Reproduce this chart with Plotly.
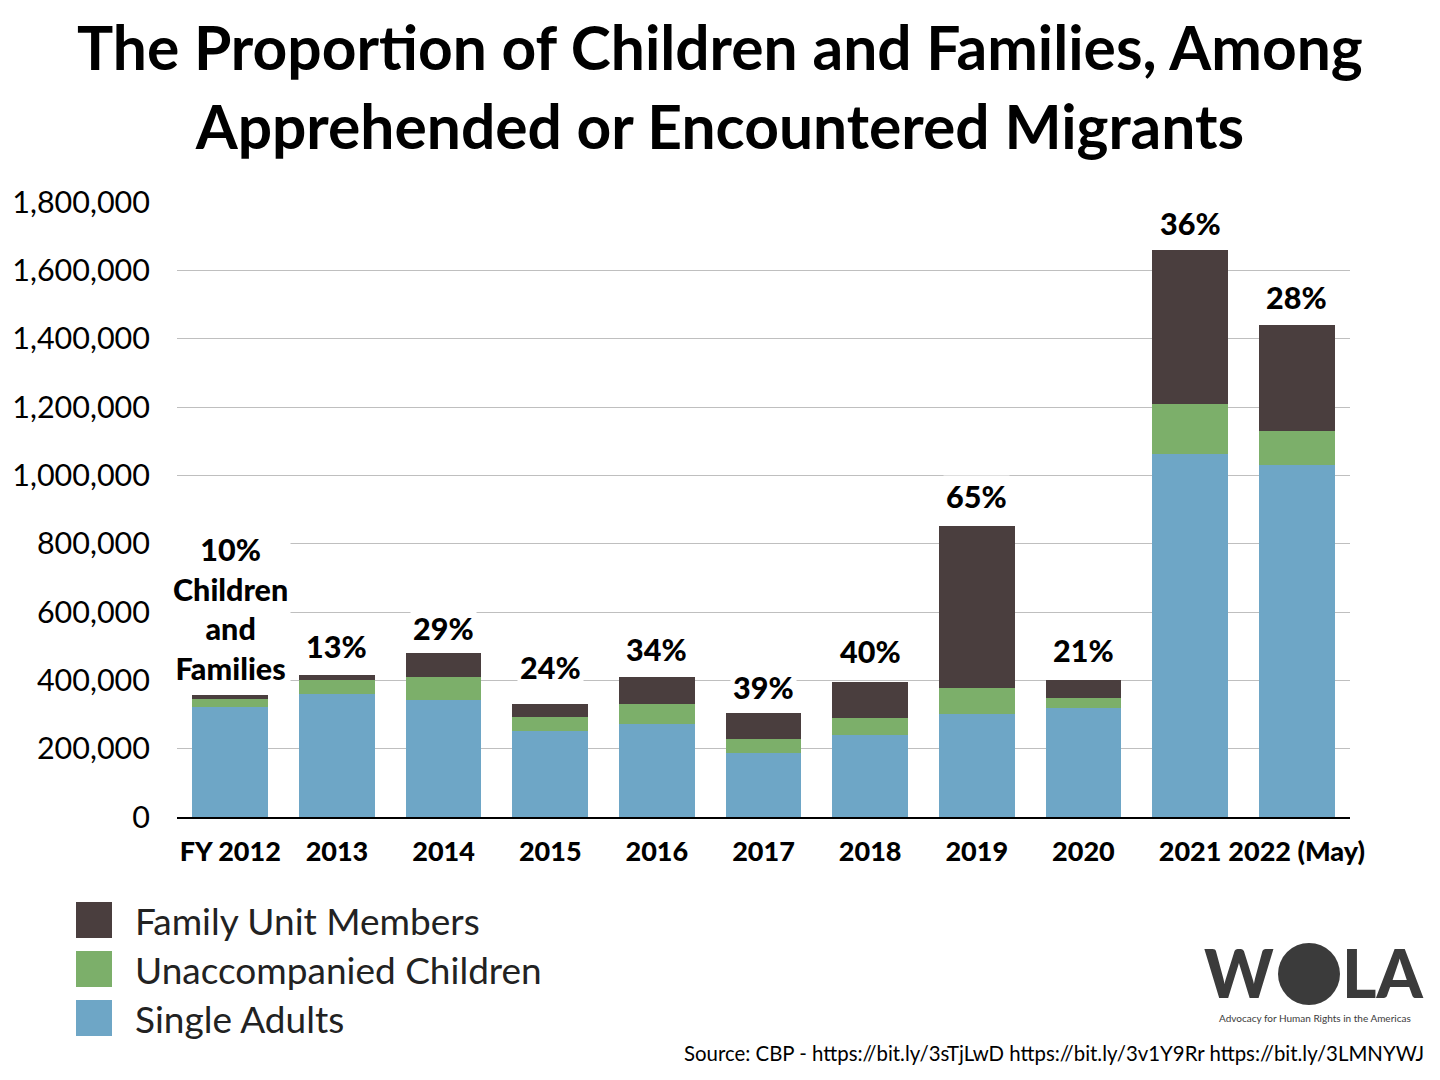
import plotly.graph_objects as go

years = ["FY 2012", "2013", "2014", "2015", "2016", "2017", "2018", "2019", "2020", "2021", "2022 (May)"]
single_adults = [321276, 360783, 342385, 251525, 271504, 186859, 239331, 301806, 317864, 1063285, 1030000]
unaccompanied = [24481, 38759, 68541, 39970, 59692, 41435, 50036, 76020, 30557, 144834, 100000]
family_units = [11116, 14855, 68445, 39838, 77674, 75622, 107212, 473682, 52230, 451087, 310000]
pct_labels = ["10%<br>Children<br>and<br>Families", "13%", "29%", "24%", "34%", "39%", "40%", "65%", "21%", "36%", "28%"]
label_shift = [6, 8, 4, 16, 7, 5, 10, 9, 9, 6, 7]

series_names = ["Single Adults", "Unaccompanied Children", "Family Unit Members"]
colors = ["#6ea6c6", "#7caf6a", "#4a3e3e"]

FONT = "Lato"
xpos = list(range(len(years)))

fig = go.Figure()
for name, vals, col in zip(series_names, [single_adults, unaccompanied, family_units], colors):
    fig.add_trace(go.Bar(x=xpos, y=vals, name=name, marker=dict(color=col, line=dict(width=0))))

totals = [a + b + c for a, b, c in zip(single_adults, unaccompanied, family_units)]
for xi, tot, lab, sh in zip(xpos, totals, pct_labels, label_shift):
    fig.add_annotation(x=xi, y=tot, text=lab, showarrow=False, yanchor="bottom",
                       yshift=sh, bgcolor="white", borderpad=2,
                       font=dict(family=FONT, size=30.5, color="black", weight=900))

# Title
fig.add_annotation(xref="paper", yref="paper", x=(720 - 177) / 1173, y=(817 - 86) / 615,
                   xanchor="center", yanchor="middle",
                   text="The Proportion of Children and Families, Among<br>Apprehended or Encountered Migrants",
                   showarrow=False, font=dict(family=FONT, size=60.5, color="black", weight=700))

# Legend (custom)
leg_items = [("Family Unit Members", colors[2], 920), ("Unaccompanied Children", colors[1], 969), ("Single Adults", colors[0], 1018)]
for text, col, yc in leg_items:
    fig.add_shape(type="rect", xref="paper", yref="paper",
                  x0=(76 - 177) / 1173, x1=(112 - 177) / 1173,
                  y0=(817 - (yc + 18)) / 615, y1=(817 - (yc - 18)) / 615,
                  fillcolor=col, line=dict(width=0))
    fig.add_annotation(xref="paper", yref="paper", x=(133 - 177) / 1173, y=(817 - yc) / 615,
                       xanchor="left", yanchor="middle", text=text, showarrow=False,
                       font=dict(family=FONT, size=37, color="#222222"))

# WOLA logo
fig.add_annotation(xref="paper", yref="paper", x=(1202 - 177) / 1173, y=(817 - 972) / 615,
                   xanchor="left", yanchor="middle", text="W", showarrow=False,
                   font=dict(family=FONT, size=66, color="#3b3b3b", weight=900))
fig.add_shape(type="circle", xref="paper", yref="paper",
              x0=(1278 - 177) / 1173, x1=(1340 - 177) / 1173,
              y0=(817 - 1005) / 615, y1=(817 - 943) / 615,
              fillcolor="#3b3b3b", line=dict(width=0))
fig.add_annotation(xref="paper", yref="paper", x=(1340 - 177) / 1173, y=(817 - 972) / 615,
                   xanchor="left", yanchor="middle", text="LA", showarrow=False,
                   font=dict(family=FONT, size=66, color="#3b3b3b", weight=900))
fig.add_annotation(xref="paper", yref="paper", x=(1315 - 177) / 1173, y=(817 - 1018) / 615,
                   xanchor="center", yanchor="middle", text="Advocacy for Human Rights in the Americas",
                   showarrow=False, font=dict(family=FONT, size=10, color="#3b3b3b"))

# Source
fig.add_annotation(xref="paper", yref="paper", x=(1426 - 177) / 1173, y=(817 - 1053) / 615,
                   xanchor="right", yanchor="middle",
                   text="Source: CBP - https://bit.ly/3sTjLwD https://bit.ly/3v1Y9Rr https://bit.ly/3LMNYWJ",
                   showarrow=False, font=dict(family=FONT, size=20.4, color="black"))

fig.update_layout(
    width=1440, height=1080,
    barmode="stack", bargap=0.29,
    showlegend=False,
    plot_bgcolor="white", paper_bgcolor="white",
    margin=dict(l=169, r=98, t=194, b=271),
    font=dict(family=FONT),
)
fig.update_yaxes(range=[0, 1800000], tickvals=list(range(0, 1800001, 200000)), tickformat=",",
                 showgrid=True, gridcolor="#bfbfbf", gridwidth=1, zeroline=False, automargin=False,
                 ticks="", ticklabelstandoff=26, tickfont=dict(family=FONT, size=30.5, color="black"),
                 showline=False)
fig.update_xaxes(range=[-0.5, len(years) - 0.5], tickvals=xpos, ticktext=years, automargin=False,
                 showline=True, linecolor="black", linewidth=2, ticks="", showgrid=False, zeroline=False,
                 tickfont=dict(family=FONT, size=27, color="black", weight=900),
                 ticklabelstandoff=10)

fig.write_html("out.html")
